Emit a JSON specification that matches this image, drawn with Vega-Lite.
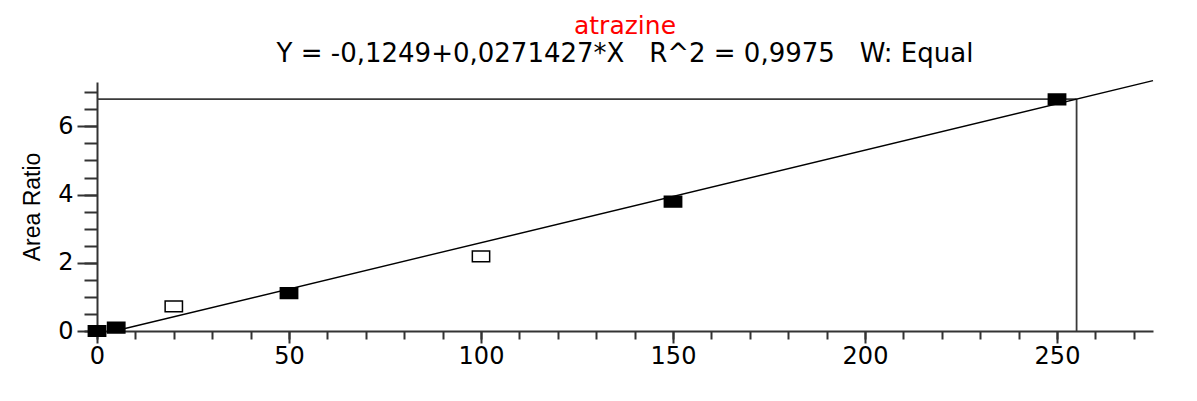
{
  "$schema": "https://vega.github.io/schema/vega-lite/v6.json",
  "width": 1056,
  "height": 249,
  "autosize": {"type": "none"},
  "padding": {"left": 97, "top": 82, "right": 44, "bottom": 70},
  "background": "white",
  "config": {"view": {"stroke": null}},
  "title": {
    "text": "atrazine",
    "color": "#ff0000",
    "font": "DejaVu Sans",
    "fontSize": 25,
    "fontWeight": "normal",
    "subtitle": "Y = -0,1249+0,0271427*X\u00a0\u00a0\u00a0R^2 = 0,9975\u00a0\u00a0\u00a0W: Equal",
    "subtitleColor": "#000000",
    "subtitleFont": "DejaVu Sans",
    "subtitleFontSize": 26,
    "subtitlePadding": 2,
    "anchor": "middle",
    "offset": 11
  },
  "datasets": {
    "pts": [
      {"x": 0, "y": 0, "status": "used"},
      {"x": 5, "y": 0.1, "status": "used"},
      {"x": 20, "y": 0.72, "status": "excluded"},
      {"x": 50, "y": 1.11, "status": "used"},
      {"x": 100, "y": 2.19, "status": "excluded"},
      {"x": 150, "y": 3.79, "status": "used"},
      {"x": 250, "y": 6.79, "status": "used"}
    ],
    "fit": [
      {"x": 4.6, "y": 0},
      {"x": 275, "y": 7.339}
    ],
    "cross": [
      {"x": 0, "x2": 255.1, "y": 6.8, "y2": 6.8},
      {"x": 255.1, "x2": 255.1, "y": 6.8, "y2": 0}
    ]
  },
  "resolve": {"axis": {"x": "independent", "y": "independent"}},
  "layer": [
    {
      "data": {"name": "cross"},
      "mark": {"type": "rule", "color": "#3a3a3a", "strokeWidth": 1.8},
      "encoding": {
        "x": {
          "field": "x", "type": "quantitative",
          "scale": {"domain": [0, 275], "nice": false, "zero": false},
          "axis": {
            "orient": "bottom",
            "title": null,
            "values": [0,10,20,30,40,50,60,70,80,90,100,110,120,130,140,150,160,170,180,190,200,210,220,230,240,250,260,270],
            "labels": false,
            "tickSize": 8,
            "tickWidth": 2,
            "tickColor": "#333333",
            "domainColor": "#333333",
            "domainWidth": 2,
            "grid": false
          }
        },
        "x2": {"field": "x2"},
        "y": {
          "field": "y", "type": "quantitative",
          "scale": {"domain": [0, 7.3], "nice": false, "zero": false},
          "axis": {
            "orient": "left",
            "title": null,
            "values": [0,0.5,1,1.5,2,2.5,3,3.5,4,4.5,5,5.5,6,6.5,7],
            "labels": false,
            "tickSize": 13,
            "tickWidth": 2,
            "tickColor": "#333333",
            "domainColor": "#333333",
            "domainWidth": 2,
            "grid": false
          }
        },
        "y2": {"field": "y2"}
      }
    },
    {
      "data": {"name": "fit"},
      "mark": {"type": "line", "color": "#000000", "strokeWidth": 1.4},
      "encoding": {
        "x": {
          "field": "x", "type": "quantitative",
          "scale": {"domain": [0, 275], "nice": false, "zero": false},
          "axis": {
            "orient": "bottom",
            "title": null,
            "values": [0,50,100,150,200,250],
            "tickSize": 12,
            "tickWidth": 2,
            "tickColor": "#333333",
            "domain": false,
            "grid": false,
            "labelFont": "DejaVu Sans",
            "labelFontSize": 24,
            "labelColor": "#000000",
            "labelPadding": 1,
            "labelFlush": false,
            "labelOverlap": false
          }
        },
        "y": {
          "field": "y", "type": "quantitative",
          "scale": {"domain": [0, 7.3], "nice": false, "zero": false},
          "axis": {
            "orient": "left",
            "title": "Area Ratio",
            "titleFont": "Liberation Sans",
            "titleFontSize": 23,
            "titleFontWeight": "normal",
            "titleColor": "#000000",
            "titlePadding": 13,
            "values": [0,2,4,6],
            "tickSize": 20,
            "tickWidth": 2,
            "tickColor": "#333333",
            "domain": false,
            "grid": false,
            "labelFont": "DejaVu Sans",
            "labelFontSize": 24,
            "labelColor": "#000000",
            "labelPadding": 4,
            "labelFlush": false,
            "labelOverlap": false
          }
        }
      }
    },
    {
      "data": {"name": "pts"},
      "mark": {
        "type": "point",
        "shape": "M-1,-0.62L1,-0.62L1,0.62L-1,0.62Z",
        "size": 300,
        "filled": true,
        "opacity": 1,
        "stroke": "#000000",
        "strokeWidth": 1.5,
        "clip": false
      },
      "encoding": {
        "x": {"field": "x", "type": "quantitative", "scale": {"domain": [0, 275], "nice": false, "zero": false}, "axis": null},
        "y": {"field": "y", "type": "quantitative", "scale": {"domain": [0, 7.3], "nice": false, "zero": false}, "axis": null},
        "fill": {
          "field": "status", "type": "nominal",
          "scale": {"domain": ["used", "excluded"], "range": ["#000000", "#ffffff"]},
          "legend": null
        }
      }
    }
  ]
}
